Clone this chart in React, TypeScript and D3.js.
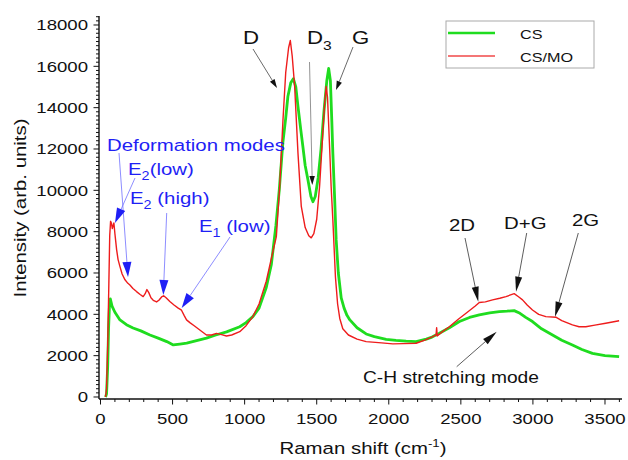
import React from 'react';
import * as d3 from 'd3';

const csShift = [35, 42, 50, 56, 62, 68, 80, 100, 135, 180, 226, 280, 343, 400, 460, 505, 550, 598, 660, 735, 800, 875, 966, 1010, 1057, 1100, 1150, 1185, 1217, 1240, 1265, 1285, 1300, 1320, 1338, 1355, 1370, 1390, 1404, 1420, 1439, 1460, 1474, 1490, 1510, 1530, 1550, 1570, 1583, 1595, 1605, 1612, 1625, 1635, 1650, 1670, 1690, 1710, 1730, 1780, 1843, 1900, 1982, 2050, 2120, 2190, 2260, 2300, 2351, 2420, 2490, 2560, 2628, 2700, 2767, 2820, 2870, 2910, 2950, 2997, 3060, 3136, 3200, 3274, 3340, 3413, 3500, 3598];
const csIntensity = [0, 150, 1500, 3300, 4400, 4750, 4400, 4100, 3730, 3500, 3340, 3200, 3000, 2850, 2680, 2520, 2560, 2610, 2720, 2850, 3000, 3150, 3400, 3600, 3890, 4300, 5300, 6400, 8300, 10000, 12300, 13500, 14540, 15200, 15400, 15000, 14060, 12900, 12120, 11200, 10510, 9700, 9450, 9700, 10600, 12000, 13800, 15300, 15900, 15300, 13300, 11800, 9500, 7600, 6000, 4800, 4300, 3950, 3730, 3350, 3050, 2920, 2790, 2740, 2700, 2680, 2800, 2900, 3080, 3350, 3650, 3850, 3970, 4070, 4130, 4150, 4180, 4050, 3850, 3650, 3300, 3000, 2750, 2520, 2300, 2110, 2000, 1950];

const csmoShift = [35, 42, 50, 58, 64, 70, 76, 82, 88, 93, 100, 112, 122, 135, 150, 170, 190, 204, 225, 250, 275, 296, 310, 322, 335, 350, 366, 389, 405, 424, 438, 455, 481, 510, 539, 562, 580, 597, 620, 650, 689, 735, 770, 805, 840, 874, 910, 966, 1010, 1057, 1100, 1150, 1185, 1220, 1243, 1266, 1285, 1305, 1317, 1330, 1347, 1370, 1393, 1420, 1445, 1462, 1480, 1500, 1520, 1540, 1555, 1566, 1575, 1590, 1600, 1612, 1630, 1645, 1660, 1681, 1720, 1780, 1843, 1950, 2028, 2100, 2190, 2250, 2305, 2328, 2332, 2336, 2370, 2420, 2480, 2536, 2600, 2628, 2670, 2720, 2770, 2813, 2850, 2870, 2900, 2928, 2960, 2997, 3040, 3090, 3159, 3200, 3274, 3320, 3367, 3430, 3505, 3598];
const csmoIntensity = [0, 400, 2500, 5500, 7800, 8500, 8400, 8150, 8300, 8420, 7900, 7120, 6650, 6310, 5950, 5670, 5500, 5420, 5250, 5100, 4960, 4860, 5000, 5200, 5050, 4800, 4680, 4600, 4680, 4840, 4900, 4800, 4620, 4450, 4300, 4200, 3950, 3730, 3600, 3450, 3240, 3000, 3000, 3080, 3020, 2950, 3000, 3160, 3450, 3890, 4500, 5600, 6700, 7760, 10180, 13400, 15700, 16900, 17250, 16500, 15030, 11800, 9220, 8200, 7800, 7700, 7900, 8600, 10200, 12500, 14200, 15030, 14500, 12000, 10200, 8570, 5800, 4500, 3800, 3300, 3000, 2800, 2680, 2620, 2570, 2580, 2600, 2750, 2920, 3000, 3350, 2950, 3150, 3400, 3750, 4050, 4400, 4570, 4600, 4700, 4780, 4860, 4950, 5000, 4850, 4700, 4450, 4210, 4000, 3890, 3860, 3700, 3490, 3400, 3400, 3480, 3570, 3690];

const seriesNames = ['CS', 'CS/MO'];
const xTickValues = [0, 500, 1000, 1500, 2000, 2500, 3000, 3500];
const yTickValues = [0, 2000, 4000, 6000, 8000, 10000, 12000, 14000, 16000, 18000];

const GREEN = '#1fdc1f';
const RED = '#ee1c1c';
const BLUE = '#1f1ff5';
const FONT = "'Liberation Sans', Arial, sans-serif";
const SX = 1.2;

const xScale = d3.scaleLinear().domain([-10.4, 3618]).range([99, 622]);
const yScale = d3.scaleLinear().domain([-97, 18435]).range([399, 16]);

function T({ x, y, size, anchor = 'start', fill = '#111', rotate = 0, children }: any) {
  return (
    <g transform={`translate(${x},${y}) rotate(${rotate}) scale(${SX},1)`}>
      <text x={0} y={0} fontSize={size} textAnchor={anchor} fill={fill} fontFamily={FONT}>
        {children}
      </text>
    </g>
  );
}

function Arrow({ x1, y1, x2, y2, color, lineColor, headLen, headW, sw = 0.8 }: any) {
  const dx = x2 - x1, dy = y2 - y1;
  const len = Math.hypot(dx, dy);
  const ux = dx / len, uy = dy / len;
  const bx = x2 - ux * headLen, by = y2 - uy * headLen;
  const px = -uy * headW / 2, py = ux * headW / 2;
  return (
    <g>
      <line x1={x1} y1={y1} x2={bx} y2={by} stroke={lineColor || color} strokeWidth={sw} />
      <polygon points={`${x2},${y2} ${bx + px},${by + py} ${bx - px},${by - py}`} fill={color} />
    </g>
  );
}

export default function App() {
  const line = d3.line<number>().curve(d3.curveLinear);
  const csPath = d3.line<[number, number]>().x(d => xScale(d[0])).y(d => yScale(d[1]))(csShift.map((s, i) => [s, csIntensity[i]]));
  const csmoPath = d3.line<[number, number]>().x(d => xScale(d[0])).y(d => yScale(d[1]))(csmoShift.map((s, i) => [s, csmoIntensity[i]]));
  void line;

  const xMinor = d3.range(0, 3601, 100);
  const yMinor = d3.range(0, 18401, 200);
  const x0 = 99, yAx = 399;

  return (
    <svg width={628} height={460} style={{ position: 'absolute', left: 0, top: 0, background: '#fff' }}>
      <rect x={0} y={0} width={628} height={460} fill="#fff" />
      {/* series */}
      <path d={csPath || ''} fill="none" stroke={GREEN} strokeWidth={2.8} strokeLinejoin="round" />
      <path d={csmoPath || ''} fill="none" stroke={RED} strokeWidth={1.4} strokeLinejoin="round" />

      {/* axes */}
      <line x1={x0} y1={16} x2={x0} y2={yAx} stroke="#111" strokeWidth={1.4} />
      <line x1={x0} y1={yAx} x2={622} y2={yAx} stroke="#111" strokeWidth={1.4} />
      {yMinor.map(v => {
        const major = v % 2000 === 0;
        return <line key={'ym' + v} x1={x0 - (major ? 5.5 : 3)} x2={x0} y1={yScale(v)} y2={yScale(v)} stroke="#111" strokeWidth={1} />;
      })}
      {xMinor.map(v => {
        const major = v % 500 === 0;
        return <line key={'xm' + v} y1={yAx} y2={yAx + (major ? 5.5 : 3)} x1={xScale(v)} x2={xScale(v)} stroke="#111" strokeWidth={1} />;
      })}
      {yTickValues.map(v => (
        <T key={'yl' + v} x={88} y={yScale(v) + 5.5} size={15.5} anchor="end">{String(v)}</T>
      ))}
      {xTickValues.map(v => (
        <T key={'xl' + v} x={xScale(v)} y={424} size={15.5} anchor="middle">{String(v)}</T>
      ))}

      {/* axis titles */}
      <T x={25.5} y={208} size={17} anchor="middle" rotate={-90}>Intensity (arb. units)</T>
      <T x={363} y={453.5} size={17} anchor="middle">
        Raman shift (cm<tspan fontSize={11} dy={-7}>-1</tspan><tspan dy={7}>)</tspan>
      </T>

      {/* legend */}
      <rect x={446} y={21} width={148} height={47} fill="#fff" stroke="#aaa" strokeWidth={1} />
      <line x1={448} x2={495} y1={33} y2={33} stroke={GREEN} strokeWidth={2.5} />
      <line x1={448} x2={495} y1={56} y2={56} stroke="#f04848" strokeWidth={1.5} />
      <T x={520} y={38.5} size={13.5}>{seriesNames[0]}</T>
      <T x={520} y={61.5} size={13.5}>{seriesNames[1]}</T>

      {/* black annotations top */}
      <T x={243} y={43.5} size={18.5}>D</T>
      <T x={307} y={43.5} size={18.5}>D<tspan fontSize={13} dy={6}>3</tspan></T>
      <T x={352} y={43.5} size={18.5}>G</T>
      <Arrow x1={253} y1={49} x2={277} y2={88} color="#111" lineColor="#444" headLen={9} headW={5.5} />
      <Arrow x1={309.5} y1={62} x2={312.3} y2={185} color="#111" lineColor="#777" headLen={9} headW={5.5} />
      <Arrow x1={353} y1={47} x2={336} y2={90} color="#111" lineColor="#444" headLen={9} headW={5.5} />

      {/* blue annotations */}
      <T x={107} y={150.5} size={17} fill={BLUE}>Deformation modes</T>
      <T x={128} y={175} size={17} fill={BLUE}>E<tspan fontSize={12} dy={5}>2</tspan><tspan dy={-5}>(low)</tspan></T>
      <T x={130} y={204} size={17} fill={BLUE}>E<tspan fontSize={12} dy={5}>2</tspan><tspan dy={-5}> (high)</tspan></T>
      <T x={199} y={231.5} size={17} fill={BLUE}>E<tspan fontSize={12} dy={5}>1</tspan><tspan dy={-5}> (low)</tspan></T>
      <Arrow x1={119} y1={153} x2={128} y2={277} color={BLUE} lineColor="#7070ff" headLen={15} headW={9} />
      <Arrow x1={135} y1={178} x2={115} y2={223} color={BLUE} lineColor="#7070ff" headLen={15} headW={9} />
      <Arrow x1={166.7} y1={213} x2={163.3} y2={295} color={BLUE} lineColor="#7070ff" headLen={15} headW={9} />
      <Arrow x1={230} y1={237} x2={181.7} y2={308} color={BLUE} lineColor="#7070ff" headLen={15} headW={9} />

      {/* right annotations */}
      <T x={449} y={231} size={17}>2D</T>
      <T x={504} y={229} size={17}>D+G</T>
      <T x={572} y={226} size={17}>2G</T>
      <Arrow x1={465} y1={238} x2={478.3} y2={301.7} color="#111" lineColor="#333" headLen={15} headW={7} />
      <Arrow x1={526.7} y1={233} x2={516} y2={291.7} color="#111" lineColor="#333" headLen={15} headW={7} />
      <Arrow x1={578.3} y1={233} x2={555} y2={316.7} color="#111" lineColor="#333" headLen={15} headW={7} />
      <T x={363} y={382.5} size={16}>C-H stretching mode</T>
      <Arrow x1={456.7} y1={366.7} x2={496.7} y2={331.7} color="#111" lineColor="#333" headLen={15} headW={7} />
    </svg>
  );
}
